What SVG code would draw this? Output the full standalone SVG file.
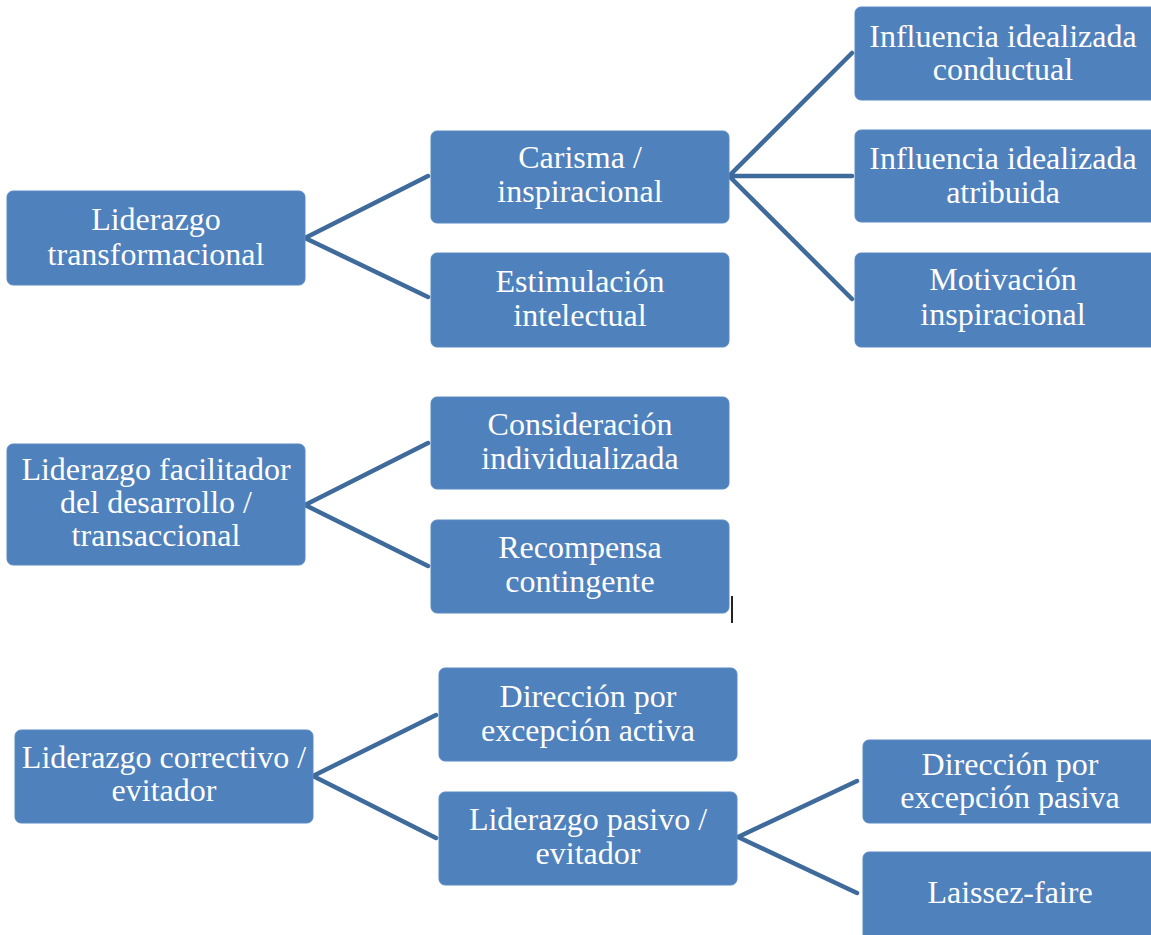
<svg xmlns="http://www.w3.org/2000/svg" width="1151" height="935" viewBox="0 0 1151 935">
<style>
.box{fill:#4F81BD;stroke:#5B8AC3;stroke-width:1}
.t{font-family:"Liberation Serif","Times New Roman",serif;font-size:32px;fill:#FFFFFF;text-anchor:middle}
.c{stroke:#3F6A9C;stroke-width:4.5;fill:none;stroke-linecap:round;stroke-linejoin:round}
</style>
<rect width="1151" height="935" fill="#FFFFFF"/>
<g id="connectors">
<path class="c" d="M428,176 L305,238 L428,297"/>
<path class="c" d="M852,53 L729,176 L852,299 M729,176 L852,176"/>
<path class="c" d="M428,443 L305,505 L428,566"/>
<path class="c" d="M436,715 L313,776 L436,838"/>
<path class="c" d="M857,781 L738,837 L857,893"/>
</g>
<g id="n1"><rect class="box" x="7" y="191" width="298" height="94" rx="6"/><text class="t" x="156" y="230">Liderazgo</text><text class="t" x="156" y="265">transformacional</text></g>
<g id="n2"><rect class="box" x="431" y="131" width="298" height="92" rx="6"/><text class="t" x="580" y="168">Carisma /</text><text class="t" x="580" y="202">inspiracional</text></g>
<g id="n3"><rect class="box" x="431" y="253" width="298" height="94" rx="6"/><text class="t" x="580" y="292">Estimulación</text><text class="t" x="580" y="326">intelectual</text></g>
<g id="n4"><rect class="box" x="855" y="7" width="302" height="93" rx="6"/><text class="t" x="1003" y="47">Influencia idealizada</text><text class="t" x="1003" y="80">conductual</text></g>
<g id="n5"><rect class="box" x="855" y="130" width="302" height="92" rx="6"/><text class="t" x="1003" y="169">Influencia idealizada</text><text class="t" x="1003" y="203">atribuida</text></g>
<g id="n6"><rect class="box" x="855" y="253" width="302" height="94" rx="6"/><text class="t" x="1003" y="290">Motivación</text><text class="t" x="1003" y="325">inspiracional</text></g>
<g id="n7"><rect class="box" x="7" y="444" width="298" height="121" rx="6"/><text class="t" x="156" y="480">Liderazgo facilitador</text><text class="t" x="156" y="513">del desarrollo /</text><text class="t" x="156" y="546">transaccional</text></g>
<g id="n8"><rect class="box" x="431" y="397" width="298" height="92" rx="6"/><text class="t" x="580" y="435">Consideración</text><text class="t" x="580" y="469">individualizada</text></g>
<g id="n9"><rect class="box" x="431" y="520" width="298" height="93" rx="6"/><text class="t" x="580" y="558">Recompensa</text><text class="t" x="580" y="592">contingente</text></g>
<g id="n10"><rect class="box" x="15" y="730" width="298" height="93" rx="6"/><text class="t" x="164" y="768">Liderazgo correctivo /</text><text class="t" x="164" y="801">evitador</text></g>
<g id="n11"><rect class="box" x="439" y="668" width="298" height="93" rx="6"/><text class="t" x="588" y="707">Dirección por</text><text class="t" x="588" y="741">excepción activa</text></g>
<g id="n12"><rect class="box" x="439" y="792" width="298" height="93" rx="6"/><text class="t" x="588" y="830">Liderazgo pasivo /</text><text class="t" x="588" y="864">evitador</text></g>
<g id="n13"><rect class="box" x="863" y="740" width="300" height="83" rx="6"/><text class="t" x="1010" y="775">Dirección por</text><text class="t" x="1010" y="808">excepción pasiva</text></g>
<g id="n14"><rect class="box" x="863" y="852" width="300" height="90" rx="6"/><text class="t" x="1010" y="903">Laissez-faire</text></g>
<line x1="732" y1="596" x2="732" y2="623" stroke="#222222" stroke-width="2"/>
</svg>
